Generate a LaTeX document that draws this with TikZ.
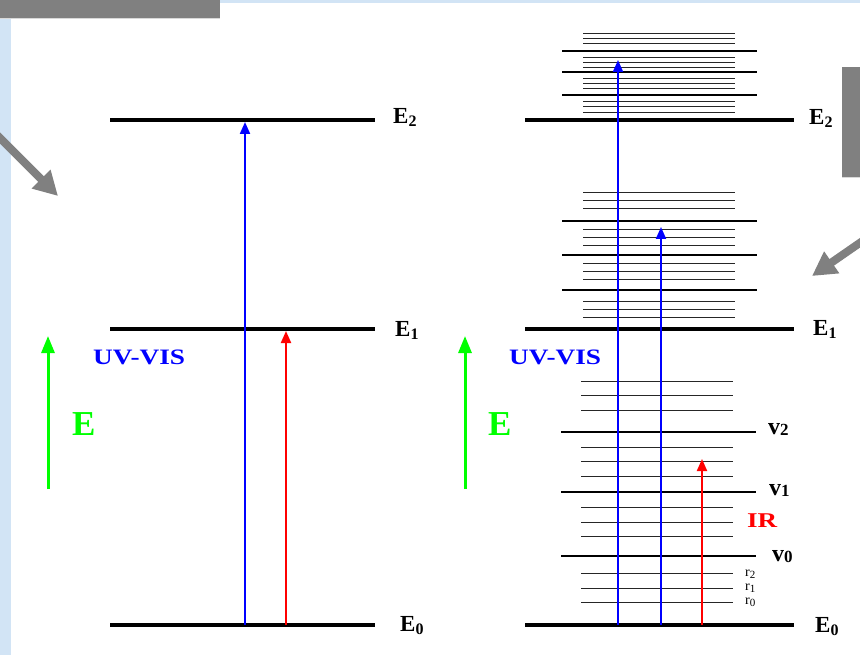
\documentclass[tikz,border=0pt]{standalone}
\usepackage{fontspec}
\setmainfont{Liberation Serif}
\usetikzlibrary{arrows.meta}
\definecolor{bgblue}{RGB}{210,228,245}
\definecolor{pointergray}{RGB}{128,128,128}
\definecolor{brightgreen}{RGB}{0,255,0}
\newcommand\Elab[2]{#1\raisebox{-3pt}{\fontsize{16}{16}\selectfont #2}}
\newcommand\Vlab[2]{#1\raisebox{-1pt}{\fontsize{17}{17}\selectfont #2}}
\newcommand\Rlab[2]{#1\raisebox{-2pt}{\fontsize{11}{11}\selectfont #2}}
\tikzset{
  elevel/.style={line width=4pt},
  vlevel/.style={line width=2pt},
  rlevel/.style={line width=0.9pt, black!85},
  uvarrow/.style={draw=blue, line width=2pt, -{Triangle[length=12pt,width=10pt]}},
  irarrow/.style={draw=red, line width=2pt, -{Triangle[length=12pt,width=10pt]}},
  earrow/.style={draw=brightgreen, line width=3pt, -{Triangle[length=17pt,width=13pt]}},
  pointer/.style={draw=pointergray, line width=8pt, -{Triangle[length=24pt,width=25pt]}},
  elabel/.style={anchor=base west, inner sep=0pt, font=\fontsize{23}{23}\selectfont\bfseries},
  vlabel/.style={anchor=base west, inner sep=0pt, font=\fontsize{24}{24}\selectfont\bfseries},
  rlabel/.style={anchor=base west, inner sep=0pt, font=\fontsize{14}{14}\selectfont},
  uvlabel/.style={anchor=base west, inner sep=0pt, text=blue, font=\fontsize{22}{22}\selectfont\bfseries},
  irlabel/.style={anchor=base west, inner sep=0pt, text=red, font=\fontsize{21}{21}\selectfont\bfseries},
  bigE/.style={anchor=base west, inner sep=0pt, text=brightgreen, font=\fontsize{35}{35}\selectfont\bfseries}
}
\begin{document}
\begin{tikzpicture}[x=1pt,y=-1pt]
\useasboundingbox (0,0) rectangle (860,655);
% background
\fill[white] (0,0) rectangle (860,655);
\fill[bgblue] (0,0) rectangle (11,655);
\fill[bgblue] (0,0) rectangle (860,3);
\fill[pointergray] (0,0) rectangle (220,18);
\fill[black!15] (0,18) rectangle (220,19);
\fill[pointergray] (842,67) rectangle (860,177);
\fill[black!15] (842,177) rectangle (860,178);
% gray pointers
\coordinate (pLa) at (-4,134);
\coordinate (pLb) at (58,196);
\coordinate (pRa) at (864,240);
\coordinate (pRb) at (812,276);
\draw[pointer] (pLa) -- (pLb);
\draw[pointer] (pRa) -- (pRb);

% ---------- left diagram ----------
\draw[elevel] (110,120) -- (375,120);
\draw[elevel] (110,329) -- (375,329);
\draw[elevel] (110,625) -- (375,625);
\node[elabel] (lE2) at (393,124) {\Elab{E}{2}};
\node[elabel] (lE1) at (395,336) {\Elab{E}{1}};
\node[elabel] (lE0) at (400,631) {\Elab{E}{0}};
\coordinate (lb0) at (245,625); \coordinate (lb1) at (245,122);
\coordinate (lr0) at (286,625); \coordinate (lr1) at (286,331);
\draw[uvarrow] (lb0) -- (lb1);
\draw[irarrow] (lr0) -- (lr1);
\coordinate (lg0) at (48,489); \coordinate (lg1) at (48,336);
\draw[earrow] (lg0) -- (lg1);
\node[uvlabel] (luv) at (93,364) {\scalebox{1.24}[1]{UV-VIS}};
\node[bigE] (lE) at (72,435) {E};

% ---------- right diagram ----------
% rotational sublevels
\foreach \yy in {33,38,43,57,62,67,78,83,88,101,106,112,
                 192,200,208,229,237,245,263,271,279,301,309,317}
  \draw[rlevel] (583,\yy) -- (735,\yy);
\foreach \yy in {381,395,410,447,461,476,507,522,536,573,588,602}
  \draw[rlevel] (581,\yy) -- (733,\yy);
% vibrational levels
\foreach \yy in {51,72,95,221,255,290}
  \draw[vlevel] (562,\yy) -- (757,\yy);
\foreach \yy in {432,492,556}
  \draw[vlevel] (561,\yy) -- (756,\yy);
% electronic levels
\draw[elevel] (525,120) -- (794,120);
\draw[elevel] (525,329) -- (794,329);
\draw[elevel] (525,625) -- (794,625);
\node[elabel] (rE2) at (809,125) {\Elab{E}{2}};
\node[elabel] (rE1) at (813,335) {\Elab{E}{1}};
\node[elabel] (rE0) at (815,632) {\Elab{E}{0}};
\node[vlabel] (v2) at (768,434) {\Vlab{v}{2}};
\node[vlabel] (v1) at (769,495) {\Vlab{v}{1}};
\node[vlabel] (v0) at (772,561) {\Vlab{v}{0}};
\node[rlabel] (r2) at (745,576) {\Rlab{r}{2}};
\node[rlabel] (r1) at (745,590) {\Rlab{r}{1}};
\node[rlabel] (r0) at (745,604) {\Rlab{r}{0}};
\node[irlabel] (ir) at (747,527) {\scalebox{1.29}[1]{IR}};
\coordinate (rb0) at (618,625); \coordinate (rb1) at (618,60);
\coordinate (rc0) at (661,625); \coordinate (rc1) at (661,227);
\coordinate (rr0) at (702,625); \coordinate (rr1) at (702,459);
\draw[uvarrow] (rb0) -- (rb1);
\draw[uvarrow] (rc0) -- (rc1);
\draw[irarrow] (rr0) -- (rr1);
\coordinate (rg0) at (465,489); \coordinate (rg1) at (465,336);
\draw[earrow] (rg0) -- (rg1);
\node[uvlabel] (ruv) at (509,364) {\scalebox{1.24}[1]{UV-VIS}};
\node[bigE] (rE) at (488,435) {E};
\end{tikzpicture}
\end{document}
